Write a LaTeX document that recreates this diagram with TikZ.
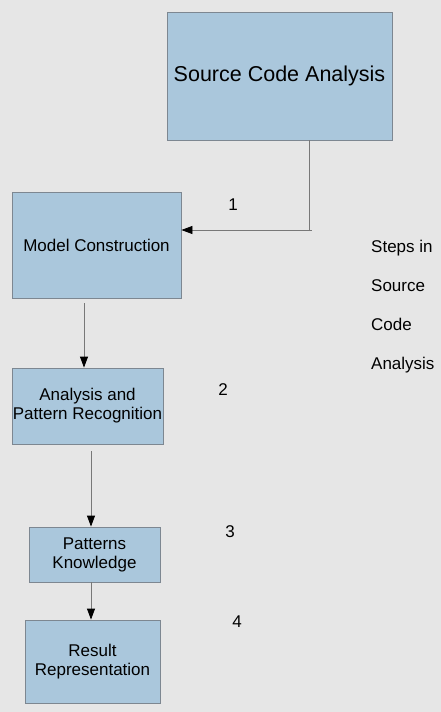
\documentclass[tikz,border=0pt]{standalone}
\usepackage{fontspec}
\setmainfont{Liberation Sans}
\usetikzlibrary{arrows.meta,positioning}

\definecolor{bggray}{RGB}{230,230,230}
\definecolor{boxblue}{RGB}{170,199,220}
\definecolor{boxedge}{RGB}{125,135,145}
\definecolor{linegray}{RGB}{120,120,120}

\begin{document}
\begin{tikzpicture}
	[x=1pt,y=-1pt,node distance=40pt,on grid,>={Triangle[length=11pt,width=8pt,color=black]},
	stepbox/.style={rectangle,draw=boxedge,fill=boxblue,line width=0.8pt,inner sep=0pt,align=center,font=\fontsize{17}{19}\selectfont},
	flow/.style={->,draw=linegray,line width=0.8pt},
	stepno/.style={font=\fontsize{17}{19}\selectfont},
	sidetext/.style={anchor=base west,inner sep=0pt,font=\fontsize{17}{19}\selectfont}]

	\fill[bggray] (0,0) rectangle (441,712);

	\node [stepbox,minimum width=225pt,minimum height=128pt,font=\fontsize{21.5}{24}\selectfont](sca) at (279.5,76) {Source Code Analysis};
	\node [stepbox,minimum width=169pt,minimum height=106pt](mc) [below left=169pt and 183pt of sca] {Model Construction};
	\node [stepbox,minimum width=151pt,minimum height=76pt](apr) [below left=161pt and 9pt of mc] {Analysis and\\Pattern Recognition};
	\node [stepbox,minimum width=131pt,minimum height=55pt](pk) [below right=148.5pt and 7pt of apr] {Patterns\\Knowledge};
	\node [stepbox,minimum width=135pt,minimum height=83pt](rr) [below left=107pt and 2pt of pk] {Result\\Representation};

	% step connectors
	\coordinate (turn) at (309,230);
	\draw [draw=linegray,line width=0.8pt] (turn |- sca.south) -- (turn) -- ++(3,0);
	\draw [flow] (turn) -- (turn -| mc.east);
	\draw [flow] ([xshift=-12.5pt,yshift=-5pt]mc.south) -- ([xshift=-3.5pt]apr.north);
	\draw [flow] ([xshift=3.5pt,yshift=-7pt]apr.south) -- ([xshift=-3.5pt]pk.north);
	\draw [flow] ([xshift=-3.5pt]pk.south) -- ([xshift=-1.5pt]rr.north);

	% step numbers
	\node [stepno](n1) [above right=40pt and 136.5pt of mc] {1};
	\node [stepno](n2) [above right=16pt and 135.5pt of apr] {2};
	\node [stepno](n3) [above right=22.5pt and 135.5pt of pk] {3};
	\node [stepno](n4) [above right=39.5pt and 144.5pt of rr] {4};

	\node [sidetext](s1) [below right=176pt and 91.5pt of sca, anchor=base west] {Steps in};
	\node [sidetext](s2) [below=39pt of s1.base west, anchor=base west] {Source};
	\node [sidetext](s3) [below=39pt of s2.base west, anchor=base west] {Code};
	\node [sidetext](s4) [below=39pt of s3.base west, anchor=base west] {Analysis};
\end{tikzpicture}
\end{document}
